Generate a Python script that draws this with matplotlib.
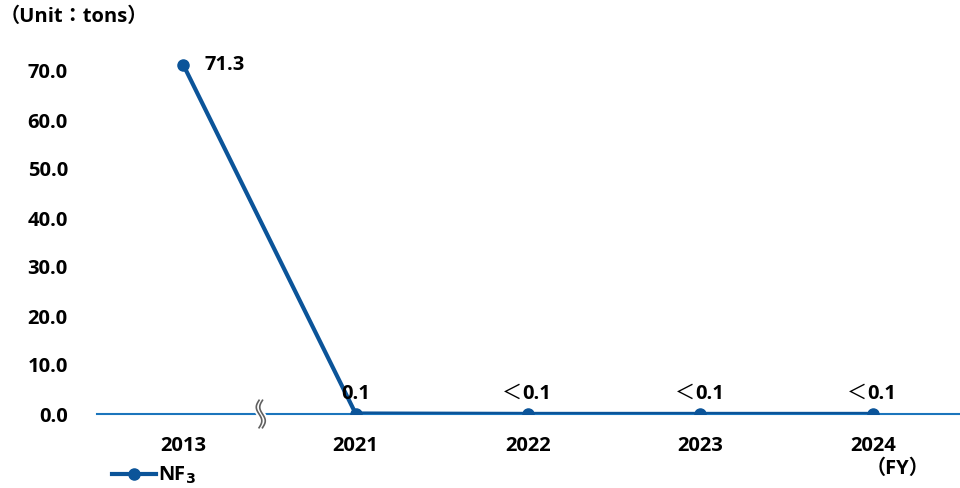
import numpy as np
import matplotlib
matplotlib.use('Agg')
from matplotlib import pyplot as plt

plt.rcParams['font.family'] = ['Open Sans', 'Noto Sans CJK JP', 'DejaVu Sans']

# data
years = ['2013', '2021', '2022', '2023', '2024']
nf3 = [71.3, 0.1, 0.02, 0.02, 0.02]
labels = ['71.3', '0.1', '＜0.1', '＜0.1', '＜0.1']
yticks = [0, 10, 20, 30, 40, 50, 60, 70]

line_col = '#0B5499'
axis_col = '#1B75BC'
fs = 14.5

fig = plt.figure(figsize=(9.6, 4.88), dpi=100)
W, H = 960, 488
ax = fig.add_axes([97 / W, (H - 414) / H, (959 - 97) / W, (414 - 22) / H])

x = np.arange(len(years))
ax.plot(x, nf3, color=line_col, lw=3, marker='o', ms=8, label='NF$_\\mathbf{3}$', zorder=3)

ax.set_xlim(-0.5, len(years) - 0.5)
ax.set_ylim(0, 80)
for s in ['top', 'right', 'left']:
    ax.spines[s].set_visible(False)
ax.spines['bottom'].set_color(axis_col)
ax.spines['bottom'].set_linewidth(1.5)

ax.set_xticks(x)
ax.set_xticklabels(years, fontsize=fs, fontweight='bold')
ax.set_yticks(yticks)
ax.set_yticklabels(['%.1f' % v for v in yticks], fontsize=fs, fontweight='bold')
ax.tick_params(axis='both', length=0)
ax.tick_params(axis='y', pad=21)
ax.tick_params(axis='x', pad=16)

# value labels
for i, (v, t) in enumerate(zip(nf3, labels)):
    if i == 0:
        ax.annotate(t, (i, v), xytext=(15, 0), textcoords='offset points',
                    ha='left', va='center', fontsize=fs, fontweight='bold')
    elif t.startswith('＜'):
        ax.annotate('＜', (i, v), xytext=(-4, 7), textcoords='offset points',
                    ha='right', va='bottom', fontsize=fs)
        ax.annotate(t[1:], (i, v), xytext=(-4, 7), textcoords='offset points',
                    ha='left', va='bottom', fontsize=fs, fontweight='bold')
    else:
        ax.annotate(t, (i, v), xytext=(0, 7), textcoords='offset points',
                    ha='center', va='bottom', fontsize=fs, fontweight='bold')

# axis break mark between 2013 and 2021
bx = 0.5 - 0.04
trans = ax.get_xaxis_transform()
t = np.linspace(0, 1, 40)
for dx in [-0.02, 0.0]:
    xs = bx + dx + 0.016 * np.sin(t * 2 * np.pi)
    ys = -0.035 + 0.07 * t
    ax.plot(xs, ys, color='white', lw=4, transform=trans, clip_on=False, zorder=4)
for dx in [-0.02, 0.0]:
    xs = bx + dx + 0.016 * np.sin(t * 2 * np.pi)
    ys = -0.035 + 0.07 * t
    ax.plot(xs, ys, color='#606060', lw=1.2, transform=trans, clip_on=False, zorder=5)

fig.text(0 / W, 1 - 17 / H, '（Unit：tons）', fontsize=fs, fontweight='bold',
         ha='left', va='center')
fig.text(866 / W, 1 - 469 / H, '（FY）', fontsize=fs, fontweight='bold',
         ha='left', va='center')

leg = ax.legend(loc='lower left', bbox_to_anchor=(104 / W, -6 / H), bbox_transform=fig.transFigure,
                frameon=False, handlelength=2.2, handletextpad=0.1,
                borderaxespad=0.0, prop={'weight': 'bold', 'size': fs})

fig.savefig('out.png', dpi=100)
